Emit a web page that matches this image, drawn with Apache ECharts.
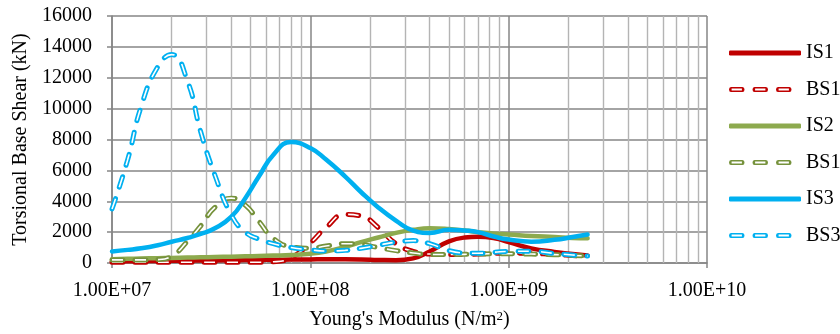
<!DOCTYPE html>
<html>
<head>
<meta charset="utf-8">
<script src="https://cdn.jsdelivr.net/npm/echarts@6/dist/echarts.min.js"></script>
<style>
  html, body { margin: 0; padding: 0; background: #fff; }
  #chart { width: 840px; height: 334px; }
</style>
</head>
<body>
<div id="chart"></div>
<script>
// Young's modulus (N/m2) sample points shared by all series
var modulus = [1e7, 1.2e7, 1.4e7, 1.7e7, 2e7, 2.4e7, 2.8e7, 3.3e7, 4e7, 4.7e7,
               5.5e7, 6.5e7, 8e7, 1e8, 1.2e8, 1.5e8, 1.8e8, 2.2e8, 2.7e8, 3.3e8,
               4e8, 5e8, 6e8, 7e8, 8.5e8, 1e9, 1.3e9, 1.7e9, 2.1e9, 2.5e9];

// torsional base shear (kN)
var is1  = [100, 110, 120, 130, 140, 150, 160, 170, 180, 190,
            200, 210, 220, 230, 240, 240, 230, 200, 180, 300,
            750, 1400, 1650, 1700, 1600, 1350, 950, 720, 580, 480];
var bs1  = [50, 50, 50, 50, 50, 50, 50, 50, 50, 50,
            50, 80, 350, 1300, 2300, 3150, 3050, 2300, 1250, 750,
            580, 550, 560, 580, 620, 640, 620, 560, 480, 430];
var is2  = [250, 270, 290, 310, 330, 350, 370, 390, 410, 430,
            450, 480, 520, 600, 750, 1050, 1350, 1650, 1950, 2150,
            2250, 2200, 2100, 2000, 1900, 1850, 1750, 1680, 1620, 1600];
var bs1b = [200, 200, 200, 220, 450, 1400, 2400, 3600, 4200, 3750,
            2700, 1600, 1050, 950, 1100, 1250, 1200, 1000, 800, 650,
            550, 550, 560, 580, 600, 600, 580, 540, 490, 450];
var is3  = [750, 850, 950, 1150, 1380, 1620, 1880, 2250, 3000, 4200,
            5600, 7000, 7830, 7450, 6700, 5600, 4600, 3600, 2750, 2100,
            1950, 2150, 2100, 2000, 1700, 1520, 1380, 1500, 1680, 1850];
var bs3  = [3500, 6700, 10100, 12700, 13500, 11800, 8500, 5700, 3100, 2000,
            1550, 1250, 1000, 850, 780, 820, 950, 1150, 1350, 1450,
            1250, 800, 650, 630, 700, 750, 760, 620, 520, 450];

var minorTicks = [2e7, 3e7, 4e7, 5e7, 6e7, 7e7, 8e7, 9e7,
                  2e8, 3e8, 4e8, 5e8, 6e8, 7e8, 8e8, 9e8,
                  2e9, 3e9, 4e9, 5e9, 6e9, 7e9, 8e9, 9e9];

var FONT = 'Liberation Serif';
var RED = '#C00000', GREEN = '#8DAA4E', GREEN_D = '#76923C', BLUE = '#00B0F0';
var DASH = [11, 12];
var SMOOTH = 0.5;

function pairs(vals) {
    return modulus.map(function (m, i) { return [m, vals[i]]; });
}

function solid(name, vals, color) {
    return {
        name: name, type: 'line', data: pairs(vals), smooth: SMOOTH,
        showSymbol: false, symbol: 'none', color: color,
        lineStyle: { color: color, width: 4.5, cap: 'round', join: 'round' }
    };
}

// dashed line with white core: coloured dashes with round caps, white dashes on top
function dashed(name, vals, color) {
    return [{
        name: name, type: 'line', data: pairs(vals), smooth: SMOOTH,
        showSymbol: false, symbol: 'none', color: color,
        lineStyle: { color: color, width: 5, type: DASH, cap: 'round', join: 'round' }
    }, {
        name: '_' + name + color, type: 'line', data: pairs(vals), smooth: SMOOTH,
        showSymbol: false, symbol: 'none', silent: true, color: '#fff',
        lineStyle: { color: '#fff', width: 1.6, type: DASH, cap: 'butt' }
    }];
}

// legend icon for the dashed lines: three hollow capsules
function capsule(s) {
    return 'M' + (s + 2) + ',0H' + (s + 13.5) + 'Q' + (s + 15.5) + ',0 ' + (s + 15.5) + ',2.5' +
           'Q' + (s + 15.5) + ',5 ' + (s + 13.5) + ',5H' + (s + 2) + 'Q' + s + ',5 ' + s + ',2.5' +
           'Q' + s + ',0 ' + (s + 2) + ',0Z' +
           'M' + (s + 2.6) + ',1.6V3.4H' + (s + 12.9) + 'V1.6Z';
}
var dashIcon = 'path://' + capsule(0) + capsule(23.5) + capsule(47) + 'M72,2.5L72,2.5';

var chart = echarts.init(document.getElementById('chart'));

var series = [];
series.push(solid('IS1', is1, RED));
series = series.concat(dashed('BS1', bs1, RED));
series.push(solid('IS2', is2, GREEN));
series = series.concat(dashed('BS1 ', bs1b, GREEN_D));
series.push(solid('IS3', is3, BLUE));
series = series.concat(dashed('BS3', bs3, BLUE));
// minor log grid lines
series.push({
    name: '_grid', type: 'line', data: [], z: 1, silent: true,
    markLine: {
        silent: true, symbol: 'none', z: 1, animation: false,
        label: { show: false },
        lineStyle: { color: '#B4B4B4', width: 1.4, type: 'solid' },
        data: minorTicks.map(function (v) { return { xAxis: v }; })
    }
});

var option = {
    animation: false,
    backgroundColor: '#fff',
    textStyle: { fontFamily: FONT },
    grid: { left: 112, right: 133, top: 16, bottom: 71, outerBoundsMode: 'none' },
    legend: {
        orient: 'vertical',
        left: 724,
        top: 38,
        itemWidth: 72,
        itemHeight: 5,
        itemGap: 16.5,
        selectedMode: false,
        itemStyle: { borderWidth: 0 },
        textStyle: { fontFamily: FONT, fontSize: 20, color: '#000' },
        data: [
            { name: 'IS1', icon: 'roundRect' },
            { name: 'BS1', icon: dashIcon },
            { name: 'IS2', icon: 'roundRect' },
            { name: 'BS1 ', icon: dashIcon },
            { name: 'IS3', icon: 'roundRect' },
            { name: 'BS3', icon: dashIcon }
        ]
    },
    xAxis: {
        type: 'log',
        logBase: 10,
        min: 1e7,
        max: 1e10,
        name: "Young's Modulus (N/m{sup|2})",
        nameLocation: 'middle',
        nameGap: 47,
        nameTextStyle: {
            fontFamily: FONT, fontSize: 20, color: '#000',
            rich: { sup: { fontFamily: FONT, fontSize: 13, color: '#000', verticalAlign: 'top', padding: [0, 0, 6, 0] } }
        },
        axisLine: { lineStyle: { color: '#868686', width: 1.5 } },
        axisTick: { show: true, length: 5, lineStyle: { color: '#868686', width: 1.5 } },
        axisLabel: {
            margin: 18, fontFamily: FONT, fontSize: 20, color: '#000',
            formatter: function (v) {
                var e = Math.round(Math.log10(v));
                return '1.00E+' + (e < 10 ? '0' : '') + e;
            }
        },
        splitLine: { show: true, lineStyle: { color: '#868686', width: 1.5 } }
    },
    yAxis: {
        type: 'value',
        min: 0,
        max: 16000,
        interval: 2000,
        name: 'Torsional Base Shear (kN)',
        nameLocation: 'middle',
        nameGap: 76,
        nameTextStyle: { fontFamily: FONT, fontSize: 20, color: '#000' },
        axisLine: { show: true, lineStyle: { color: '#868686', width: 1.5 } },
        axisTick: { show: true, length: 5, lineStyle: { color: '#868686', width: 1.5 } },
        axisLabel: {
            margin: 20, fontFamily: FONT, fontSize: 20, color: '#000',
            formatter: function (v) { return String(v); }
        },
        splitLine: { show: true, lineStyle: { color: '#868686', width: 1.5 } }
    },
    series: series
};

chart.setOption(option);
</script>
</body>
</html>
